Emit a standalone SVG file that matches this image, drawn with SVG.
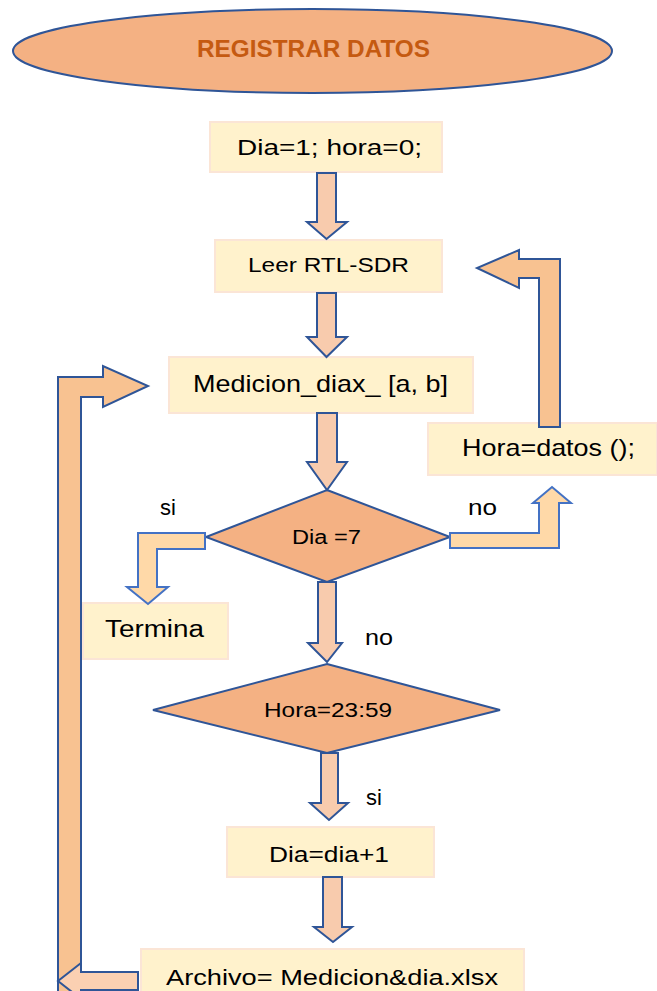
<svg xmlns="http://www.w3.org/2000/svg" width="657" height="991" viewBox="0 0 657 991">
<style>
.box{fill:#FFF2CC;stroke:#FBE5D6;stroke-width:2}
.dia{fill:#F4B183;stroke:#2F5597;stroke-width:2}
.t{font-family:"Liberation Sans",Arial,sans-serif;fill:#000;text-anchor:middle}
.lbl{font-family:"Liberation Sans",Arial,sans-serif;fill:#000}
.down{fill:#F8CBAD;stroke:#2F5597;stroke-width:2;stroke-linejoin:miter}
.bent{fill:#FFD9A8;stroke:#4472C4;stroke-width:2}
.loop{fill:#F8C291;stroke:#2F5597;stroke-width:2}
.back{fill:#FBD0B2;stroke:#2F5597;stroke-width:2}
</style>
<rect width="657" height="991" fill="#fff"/>
<g id="start">
<ellipse cx="312.5" cy="51" rx="299.5" ry="42" fill="#F4B183" stroke="#2F5597" stroke-width="2"/>
<text x="313.5" y="57" font-family="'Liberation Sans',Arial,sans-serif" font-weight="bold" font-size="23" fill="#C55A11" text-anchor="middle" textLength="233" lengthAdjust="spacingAndGlyphs">REGISTRAR DATOS</text>
</g>
<g id="init">
<rect class="box" x="210" y="122" width="232" height="50"/>
<text class="t" x="329.5" y="155" font-size="22" textLength="185" lengthAdjust="spacingAndGlyphs">Dia=1; hora=0;</text>
</g>
<g id="leer">
<rect class="box" x="215" y="240" width="227" height="52"/>
<text class="t" x="328.5" y="272" font-size="21" textLength="161" lengthAdjust="spacingAndGlyphs">Leer RTL-SDR</text>
</g>
<g id="medicion">
<rect class="box" x="169" y="357" width="304" height="56"/>
<text class="t" x="320.5" y="392" font-size="24" textLength="255" lengthAdjust="spacingAndGlyphs">Medicion_diax_ [a, b]</text>
</g>
<g id="horadatos">
<rect class="box" x="428" y="423" width="229" height="52"/>
<text class="t" x="548.5" y="456" font-size="24" textLength="173" lengthAdjust="spacingAndGlyphs">Hora=datos ();</text>
</g>
<g id="dia7">
<polygon class="dia" points="327,490 450,537 327,582 206,537"/>
<text class="t" x="326.5" y="544" font-size="20" textLength="69" lengthAdjust="spacingAndGlyphs">Dia =7</text>
</g>
<g id="termina">
<rect class="box" x="83" y="603" width="145" height="56"/>
<text class="t" x="154.5" y="637" font-size="23" textLength="99" lengthAdjust="spacingAndGlyphs">Termina</text>
</g>
<g id="hora2359">
<polygon class="dia" points="327,664 500,710 327,753 153,710"/>
<text class="t" x="328" y="717" font-size="20" textLength="128" lengthAdjust="spacingAndGlyphs">Hora=23:59</text>
</g>
<g id="diamas1">
<rect class="box" x="227" y="827" width="207" height="50"/>
<text class="t" x="329" y="862" font-size="22" textLength="120" lengthAdjust="spacingAndGlyphs">Dia=dia+1</text>
</g>
<g id="archivo">
<rect class="box" x="141" y="949" width="383" height="50"/>
<text class="t" x="332" y="985" font-size="22" textLength="332" lengthAdjust="spacingAndGlyphs">Archivo= Medicion&amp;dia.xlsx</text>
</g>
<g id="connectors">
<polygon class="down" points="317,173 336,173 336,222 347,222 326.5,239 307,222 317,222"/>
<polygon class="down" points="317,293 336,293 336,337 347,337 326.5,357 307,337 317,337"/>
<polygon class="down" points="317,413 337,413 337,462 347,462 327,490 307,462 317,462"/>
<polygon class="down" points="318,582 336,582 336,643 342,643 327,662 308,643 318,643"/>
<polygon class="down" points="321,753 338,753 338,803 348,803 329,820 310,803 321,803"/>
<polygon class="down" points="323,877 342,877 342,927 352,927 333,942 314,927 323,927"/>
<polygon class="bent" points="205,533 138,533 138,587 127,587 148,604 168,587 157,587 157,549 205,549"/>
<polygon class="bent" points="450,533 539,533 539,503 533,503 552,487 571,503 559,503 559,548 450,548"/>
<polygon class="loop" points="539,427 539,278 519,278 519,288 477,268 519,250 519,259 560,259 560,427"/>
<polygon class="loop" points="58,1000 58,377 103,377 103,366 148,386 103,407 103,397 81,397 81,1000"/>
<polygon class="back" points="138,972 81,972 81,963 58,981 81,999 81,990 138,990"/>
<text class="lbl" x="160" y="515" font-size="22">si</text>
<text class="lbl" x="468" y="515" font-size="22" textLength="29" lengthAdjust="spacingAndGlyphs">no</text>
<text class="lbl" x="365" y="645" font-size="22" textLength="28" lengthAdjust="spacingAndGlyphs">no</text>
<text class="lbl" x="366" y="805" font-size="22">si</text>
</g>
</svg>
